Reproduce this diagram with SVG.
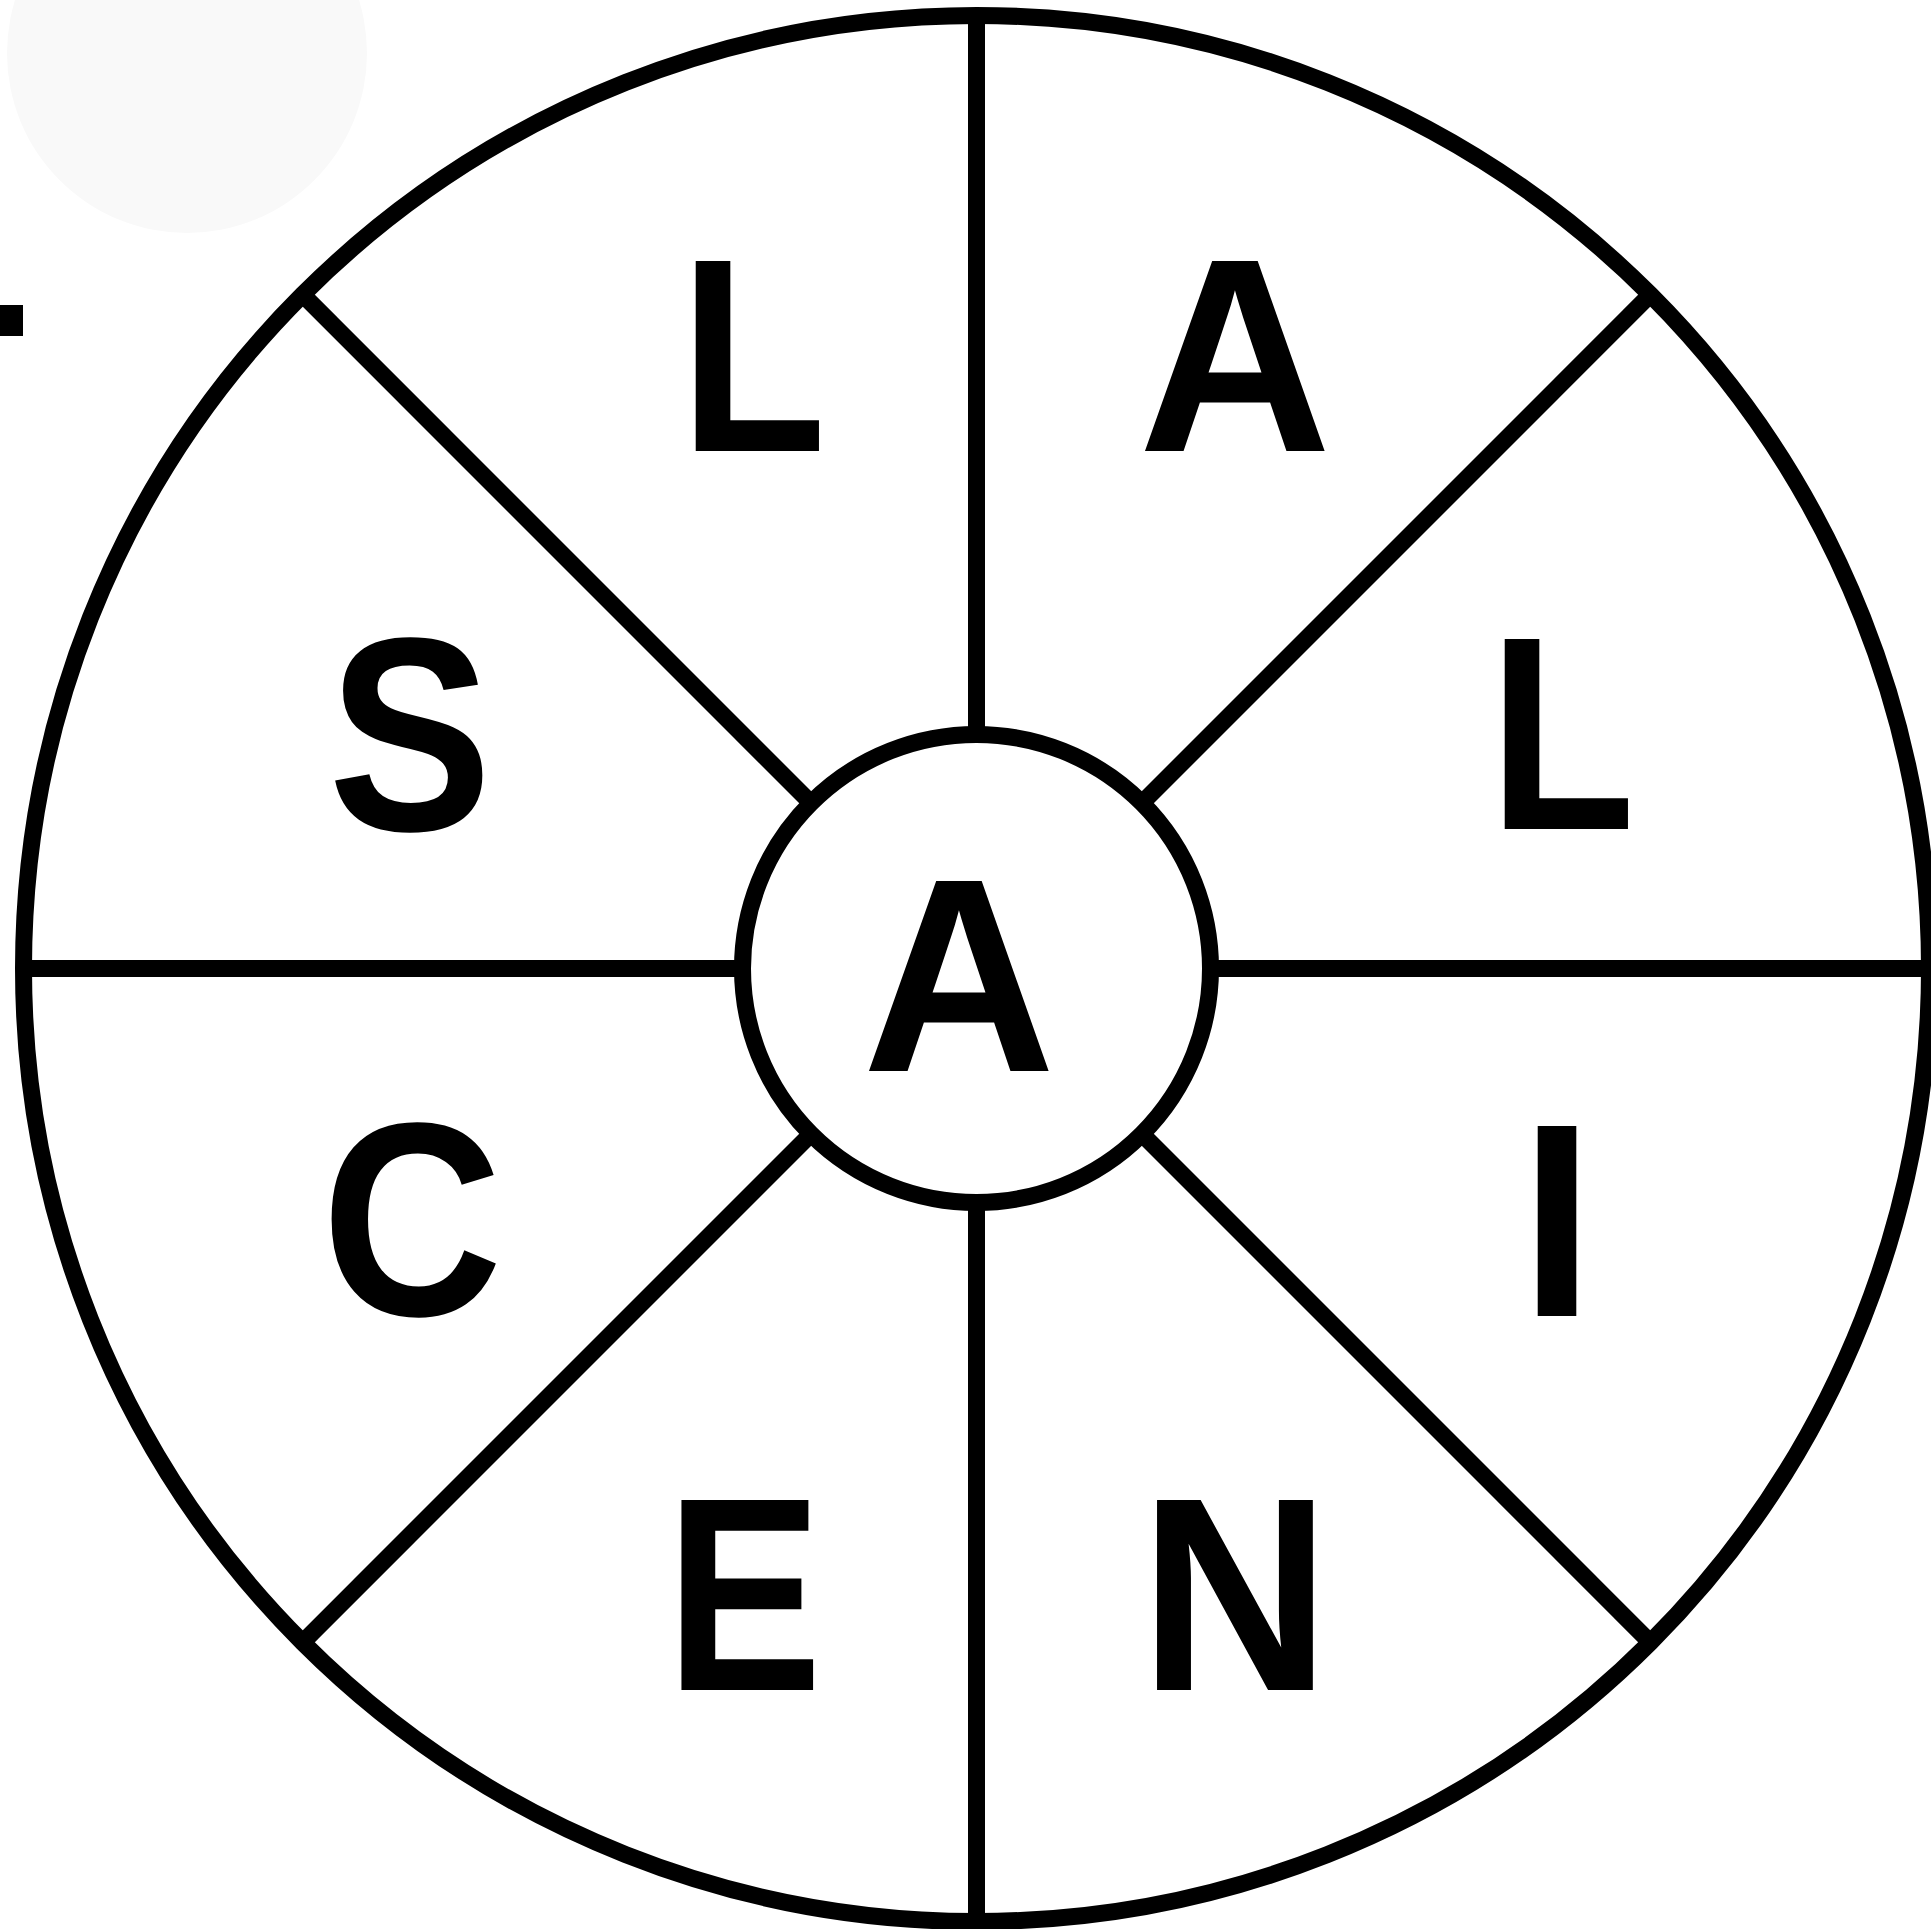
<svg xmlns="http://www.w3.org/2000/svg" width="1931" height="1929" viewBox="0 0 1931 1929">
<style>
.ln{stroke:#000;stroke-width:17;fill:none}
.lt{font-family:"Liberation Sans",Arial,sans-serif;font-weight:700;font-size:276px;fill:#000;text-anchor:middle}
</style>
<rect x="0" y="0" width="1931" height="1929" fill="#fff"/>
<circle cx="187" cy="53" r="180" fill="#f9f9f9"/>
<rect x="0" y="305" width="23" height="31" fill="#000"/>
<g id="connectors">
<line class="ln" x1="976.5" y1="16" x2="976.5" y2="734"/>
<line class="ln" x1="976.5" y1="1202" x2="976.5" y2="1921"/>
<line class="ln" x1="24" y1="968.5" x2="742.5" y2="968.5"/>
<line class="ln" x1="1210.5" y1="968.5" x2="1929" y2="968.5"/>
<line class="ln" x1="302.6" y1="294.6" x2="811" y2="803"/>
<line class="ln" x1="1650.4" y1="294.6" x2="1142" y2="803"/>
<line class="ln" x1="302.6" y1="1642.4" x2="811" y2="1134"/>
<line class="ln" x1="1650.4" y1="1642.4" x2="1142" y2="1134"/>
</g>
<g id="outer"><circle class="ln" cx="976.5" cy="968.5" r="953"/></g>
<g id="center"><circle class="ln" cx="976.5" cy="968.5" r="234" fill="#fff"/><text class="lt" transform="translate(959,1071) scale(0.97,1)">A</text></g>
<g id="n-L1"><text class="lt" transform="translate(753,451) scale(0.87,1)">L</text></g>
<g id="n-A"><text class="lt" transform="translate(1235,451) scale(0.97,1)">A</text></g>
<g id="n-S"><text class="lt" transform="translate(410,830) scale(0.89,1)">S</text></g>
<g id="n-L2"><text class="lt" transform="translate(1562,829) scale(0.87,1)">L</text></g>
<g id="n-C"><text class="lt" transform="translate(412,1315) scale(0.91,1)">C</text></g>
<g id="n-I"><text class="lt" transform="translate(1557,1316) scale(0.97,1)">I</text></g>
<g id="n-E"><text class="lt" transform="translate(744,1690) scale(0.85,1)">E</text></g>
<g id="n-N"><text class="lt" transform="translate(1235,1690) scale(0.96,1)">N</text></g>
</svg>
